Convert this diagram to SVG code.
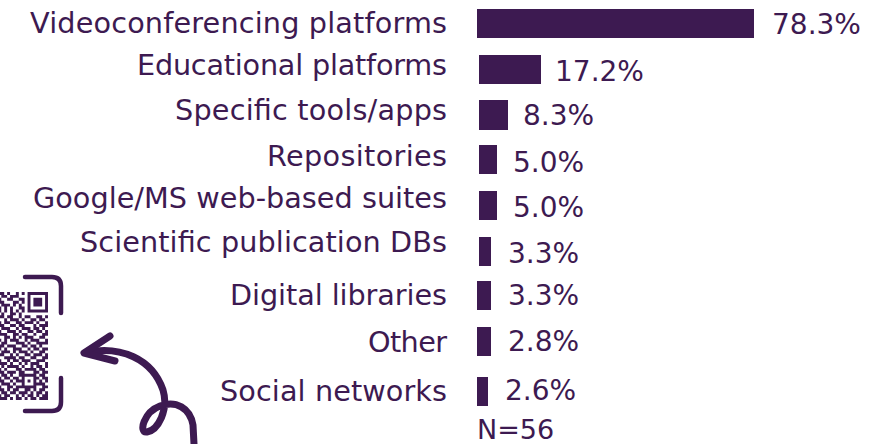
<svg xmlns="http://www.w3.org/2000/svg" width="892" height="444" viewBox="0 0 892 444">
  <style>
    .lbl { font-family: "DejaVu Sans", "Liberation Sans", sans-serif; font-size: 28.7px; fill: #3d1a51; text-anchor: end; }
    .val { font-family: "DejaVu Sans", "Liberation Sans", sans-serif; font-size: 28px; fill: #3d1a51; }
    .bar { fill: #3d1a51; }
    .ink { fill: none; stroke: #3d1a51; stroke-linecap: round; stroke-linejoin: round; }
  </style>
  <rect width="892" height="444" fill="#ffffff"/>

  <g id="row-videoconferencing">
    <text class="lbl" x="447" y="33" textLength="417">Videoconferencing platforms</text>
    <rect class="bar" x="477" y="9" width="277" height="29"/>
    <text class="val" x="772" y="34">78.3%</text>
  </g>
  <g id="row-educational">
    <text class="lbl" x="447" y="75" textLength="310">Educational platforms</text>
    <rect class="bar" x="479" y="55" width="62" height="29"/>
    <text class="val" x="555" y="81">17.2%</text>
  </g>
  <g id="row-specific">
    <text class="lbl" x="447" y="120" textLength="272">Specific tools/apps</text>
    <rect class="bar" x="479" y="100" width="29" height="30"/>
    <text class="val" x="523" y="125">8.3%</text>
  </g>
  <g id="row-repositories">
    <text class="lbl" x="447" y="166" textLength="180">Repositories</text>
    <rect class="bar" x="479" y="145" width="18" height="29"/>
    <text class="val" x="513" y="172">5.0%</text>
  </g>
  <g id="row-google">
    <text class="lbl" x="447" y="208" textLength="414">Google/MS web-based suites</text>
    <rect class="bar" x="479" y="191" width="18" height="29"/>
    <text class="val" x="513" y="217">5.0%</text>
  </g>
  <g id="row-scientific">
    <text class="lbl" x="447" y="252" textLength="367">Scientific publication DBs</text>
    <rect class="bar" x="479" y="237" width="12" height="29"/>
    <text class="val" x="508" y="263">3.3%</text>
  </g>
  <g id="row-digital">
    <text class="lbl" x="447" y="305" textLength="217">Digital libraries</text>
    <rect class="bar" x="477" y="281" width="14" height="29"/>
    <text class="val" x="508" y="305">3.3%</text>
  </g>
  <g id="row-other">
    <text class="lbl" x="447" y="352" textLength="79">Other</text>
    <rect class="bar" x="477" y="327" width="14" height="29"/>
    <text class="val" x="508" y="351">2.8%</text>
  </g>
  <g id="row-social">
    <text class="lbl" x="447" y="401" textLength="227">Social networks</text>
    <rect class="bar" x="477" y="377" width="11" height="29"/>
    <text class="val" x="505" y="400">2.6%</text>
  </g>
  <g id="sample-size">
    <text class="val" x="477" y="439" style="font-size:27px">N=56</text>
  </g>

  <g id="qr-code">
    <path class="ink" stroke-width="4.5" d="M25,277 H52 Q61,277 61,286 V313"/>
    <path class="ink" stroke-width="4.5" d="M61,378 V402 Q61,411 52,411 H25"/>
    <path fill="#3d1a51" transform="translate(-60.04 292) scale(2.92)" d="
M20 0h2v1h-2z M23 0h1v1h-1z M26 0h1v1h-1z M28 0h1v1h-1z M30 0h7v1h-7z
M21 1h2v1h-2z M24 1h3v1h-3z M30 1h1v1h-1z M36 1h1v1h-1z
M20 2h1v1h-1z M23 2h2v1h-2z M27 2h2v1h-2z M30 2h1v1h-1z M32 2h3v1h-3z M36 2h1v1h-1z
M20 3h2v1h-2z M25 3h2v1h-2z M28 3h1v1h-1z M30 3h1v1h-1z M32 3h3v1h-3z M36 3h1v1h-1z
M21 4h3v1h-3z M25 4h1v1h-1z M27 4h1v1h-1z M30 4h1v1h-1z M32 4h3v1h-3z M36 4h1v1h-1z
M20 5h1v1h-1z M22 5h1v1h-1z M24 5h1v1h-1z M27 5h2v1h-2z M30 5h1v1h-1z M36 5h1v1h-1z
M20 6h1v1h-1z M22 6h1v1h-1z M24 6h1v1h-1z M26 6h1v1h-1z M28 6h1v1h-1z M30 6h7v1h-7z
M21 7h1v1h-1z M24 7h2v1h-2z M27 7h1v1h-1z
M20 8h2v1h-2z M23 8h2v1h-2z M27 8h1v1h-1z M29 8h2v1h-2z M33 8h2v1h-2z M36 8h1v1h-1z
M22 9h1v1h-1z M24 9h3v1h-3z M28 9h1v1h-1z M31 9h2v1h-2z M34 9h2v1h-2z
M20 10h1v1h-1z M22 10h2v1h-2z M26 10h2v1h-2z M29 10h3v1h-3z M33 10h1v1h-1z M36 10h1v1h-1z
M20 11h2v1h-2z M24 11h2v1h-2z M27 11h2v1h-2z M32 11h1v1h-1z M34 11h3v1h-3z
M21 12h3v1h-3z M26 12h1v1h-1z M28 12h3v1h-3z M32 12h2v1h-2z M35 12h1v1h-1z
M20 13h1v1h-1z M23 13h3v1h-3z M27 13h1v1h-1z M30 13h2v1h-2z M33 13h2v1h-2z M36 13h1v1h-1z
M20 14h3v1h-3z M25 14h2v1h-2z M28 14h2v1h-2z M32 14h1v1h-1z M35 14h2v1h-2z
M22 15h2v1h-2z M25 15h1v1h-1z M27 15h1v1h-1z M29 15h3v1h-3z M34 15h2v1h-2z
M20 16h1v1h-1z M22 16h1v1h-1z M24 16h3v1h-3z M29 16h1v1h-1z M31 16h3v1h-3z M36 16h1v1h-1z
M21 17h2v1h-2z M26 17h3v1h-3z M30 17h1v1h-1z M33 17h4v1h-4z
M20 18h2v1h-2z M23 18h3v1h-3z M28 18h2v1h-2z M31 18h2v1h-2z M34 18h1v1h-1z
M20 19h1v1h-1z M22 19h1v1h-1z M25 19h3v1h-3z M30 19h1v1h-1z M32 19h2v1h-2z M35 19h2v1h-2z
M21 20h3v1h-3z M25 20h1v1h-1z M27 20h3v1h-3z M31 20h1v1h-1z M34 20h2v1h-2z
M20 21h2v1h-2z M24 21h1v1h-1z M26 21h1v1h-1z M29 21h2v1h-2z M32 21h3v1h-3z M36 21h1v1h-1z
M22 22h4v1h-4z M27 22h2v1h-2z M31 22h2v1h-2z M35 22h2v1h-2z
M20 23h1v1h-1z M23 23h1v1h-1z M25 23h2v1h-2z M28 23h3v1h-3z M33 23h3v1h-3z
M20 24h3v1h-3z M24 24h1v1h-1z M27 24h1v1h-1z M29 24h1v1h-1z M31 24h3v1h-3z M36 24h1v1h-1z
M21 25h1v1h-1z M23 25h4v1h-4z M28 25h1v1h-1z M31 25h1v1h-1z M33 25h2v1h-2z M36 25h1v1h-1z
M20 26h1v1h-1z M22 26h1v1h-1z M26 26h2v1h-2z M29 26h4v1h-4z M34 26h2v1h-2z
M20 27h2v1h-2z M23 27h3v1h-3z M27 27h2v1h-2z M32 27h2v1h-2z M35 27h2v1h-2z
M21 28h2v1h-2z M24 28h1v1h-1z M27 28h6v1h-6z M34 28h2v1h-2z
M20 29h1v1h-1z M22 29h2v1h-2z M25 29h2v1h-2z M28 29h1v1h-1z M32 29h2v1h-2z M35 29h2v1h-2z
M20 30h2v1h-2z M24 30h1v1h-1z M26 30h3v1h-3z M30 30h1v1h-1z M32 30h1v1h-1z M34 30h1v1h-1z M36 30h1v1h-1z
M21 31h3v1h-3z M25 31h1v1h-1z M28 31h1v1h-1z M32 31h4v1h-4z
M20 32h1v1h-1z M23 32h2v1h-2z M26 32h7v1h-7z M35 32h2v1h-2z
M20 33h2v1h-2z M23 33h1v1h-1z M25 33h2v1h-2z M29 33h2v1h-2z M32 33h1v1h-1z M34 33h2v1h-2z
M21 34h2v1h-2z M24 34h2v1h-2z M27 34h3v1h-3z M31 34h1v1h-1z M33 34h2v1h-2z M36 34h1v1h-1z
M20 35h1v1h-1z M22 35h2v1h-2z M26 35h1v1h-1z M28 35h1v1h-1z M30 35h2v1h-2z M33 35h1v1h-1z M35 35h2v1h-2z
M20 36h3v1h-3z M24 36h1v1h-1z M26 36h2v1h-2z M29 36h1v1h-1z M31 36h2v1h-2z M34 36h3v1h-3z"/>
  </g>

  <g id="connectors">
    <path class="ink" stroke-width="7" d="M88,352 C120,346 152,358 163,390 C169,410 158,430 147,432 C138,433 144,412 160,406 C176,400 190,408 193,425 L194,444"/>
    <path class="ink" stroke-width="7" d="M110,336 L84,353 L115,361"/>
  </g>
</svg>
